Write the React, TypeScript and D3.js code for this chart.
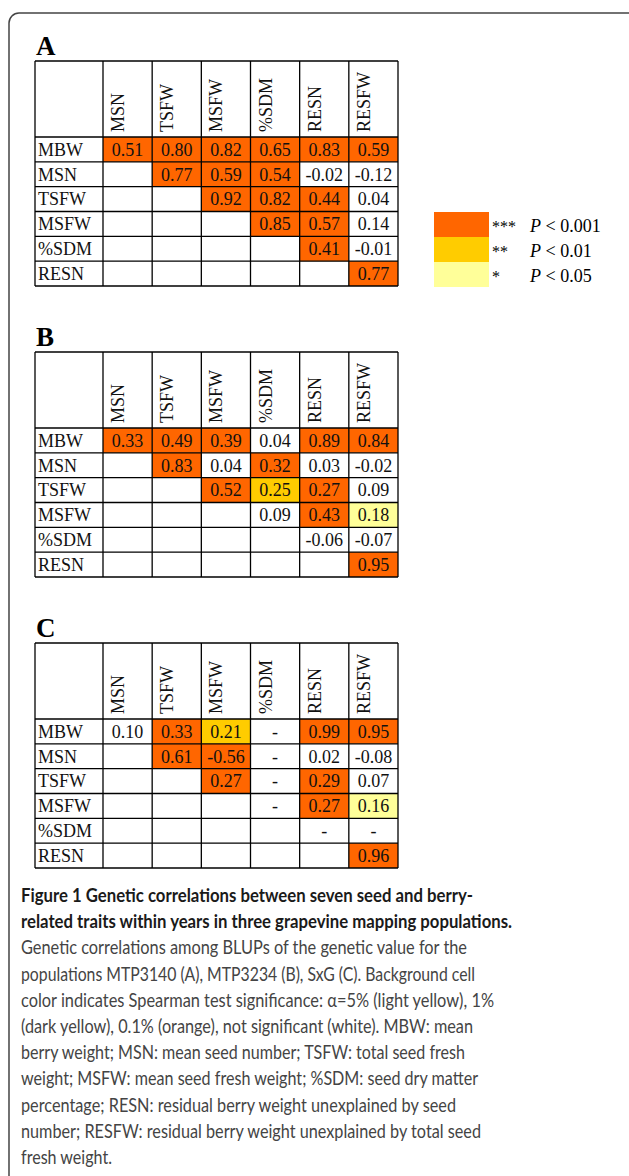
import { useEffect, useRef } from "react";
import * as d3 from "d3";

// Trait names
const rowTraits = ["MBW", "MSN", "TSFW", "MSFW", "%SDM", "RESN"];
const colTraits = ["MSN", "TSFW", "MSFW", "%SDM", "RESN", "RESFW"];

// Upper triangle values per row (null = "-"), starting at diagonal column
const valuesA: (number | null)[][] = [
  [0.51, 0.8, 0.82, 0.65, 0.83, 0.59],
  [0.77, 0.59, 0.54, -0.02, -0.12],
  [0.92, 0.82, 0.44, 0.04],
  [0.85, 0.57, 0.14],
  [0.41, -0.01],
  [0.77],
];
// significance: 3 = P<0.001, 2 = P<0.01, 1 = P<0.05, 0 = n.s.
const sigA = [
  [3, 3, 3, 3, 3, 3],
  [3, 3, 3, 0, 0],
  [3, 3, 3, 0],
  [3, 3, 0],
  [3, 0],
  [3],
];

const valuesB: (number | null)[][] = [
  [0.33, 0.49, 0.39, 0.04, 0.89, 0.84],
  [0.83, 0.04, 0.32, 0.03, -0.02],
  [0.52, 0.25, 0.27, 0.09],
  [0.09, 0.43, 0.18],
  [-0.06, -0.07],
  [0.95],
];
const sigB = [
  [3, 3, 3, 0, 3, 3],
  [3, 0, 3, 0, 0],
  [3, 2, 3, 0],
  [0, 3, 1],
  [0, 0],
  [3],
];

const valuesC: (number | null)[][] = [
  [0.1, 0.33, 0.21, null, 0.99, 0.95],
  [0.61, -0.56, null, 0.02, -0.08],
  [0.27, null, 0.29, 0.07],
  [null, 0.27, 0.16],
  [null, null],
  [0.96],
];
const sigC = [
  [0, 3, 2, 0, 3, 3],
  [3, 3, 0, 0, 0],
  [3, 0, 3, 0],
  [0, 3, 1],
  [0, 0],
  [3],
];

const panels = [
  { label: "A", values: valuesA, sig: sigA },
  { label: "B", values: valuesB, sig: sigB },
  { label: "C", values: valuesC, sig: sigC },
];

const legendStars = ["***", "**", "*"];
const legendP = ["0.001", "0.01", "0.05"];

const captionBold = [
  "Figure 1 Genetic correlations between seven seed and berry-",
  "related traits within years in three grapevine mapping populations.",
];
const captionLines = [
  "Genetic correlations among BLUPs of the genetic value for the",
  "populations MTP3140 (A), MTP3234 (B), SxG (C). Background cell",
  "color indicates Spearman test significance: α=5% (light yellow), 1%",
  "(dark yellow), 0.1% (orange), not significant (white). MBW: mean",
  "berry weight; MSN: mean seed number; TSFW: total seed fresh",
  "weight; MSFW: mean seed fresh weight; %SDM: seed dry matter",
  "percentage; RESN: residual berry weight unexplained by seed",
  "number; RESFW: residual berry weight unexplained by total seed",
  "fresh weight.",
];
const captionWidths = [452, 491, 446, 454, 473, 452, 444, 457, 435, 460, 91];

export default function App() {
  const svgRef = useRef<SVGSVGElement>(null);

  useEffect(() => {
    if (!svgRef.current) return;
    const width = 629;
    const height = 1176;
    const svg = d3.select(svgRef.current);
    svg.selectAll("*").remove();
    svg.attr("width", width).attr("height", height);

    const serif = "'Liberation Serif', 'Times New Roman', serif";
    const sigColor = ["#ffffff", "#ffff99", "#ffcc00", "#ff6600"];

    // outer frame
    svg
      .append("rect")
      .attr("x", 9)
      .attr("y", 13)
      .attr("width", 640)
      .attr("height", 1220)
      .attr("rx", 10)
      .attr("fill", "none")
      .attr("stroke", "#444")
      .attr("stroke-width", 1.5);

    const tableLeft = 35;
    const firstColRight = 103;
    const tableRight = 398;
    const headerH = 76;
    const bodyH = 149;
    const tableTops = [61, 352, 643];

    const x = d3
      .scaleBand<string>()
      .domain(colTraits)
      .range([firstColRight, tableRight]);

    panels.forEach((panel, p) => {
      const top = tableTops[p];
      const headerBottom = top + headerH;
      const y = d3
        .scaleBand<string>()
        .domain(rowTraits)
        .range([headerBottom, headerBottom + bodyH]);
      const g = svg.append("g");

      // panel letter
      g.append("text")
        .attr("x", 36)
        .attr("y", top - 6)
        .attr("font-family", serif)
        .attr("font-weight", "bold")
        .attr("font-size", 27)
        .text(panel.label);

      // coloured cells
      panel.values.forEach((row, i) => {
        row.forEach((v, k) => {
          const col = colTraits[i + k];
          const s = panel.sig[i][k];
          g.append("rect")
            .attr("x", x(col)!)
            .attr("y", y(rowTraits[i])!)
            .attr("width", x.bandwidth())
            .attr("height", y.bandwidth())
            .attr("fill", sigColor[s]);
          g.append("text")
            .attr("x", x(col)! + x.bandwidth() / 2)
            .attr("y", y(rowTraits[i])! + y.bandwidth() / 2)
            .attr("dy", "0.35em")
            .attr("text-anchor", "middle")
            .attr("font-family", serif)
            .attr("font-size", 18)
            .attr("fill", "#111")
            .text(v === null ? "-" : v.toFixed(2));
        });
      });

      // row labels
      rowTraits.forEach((r) => {
        g.append("text")
          .attr("x", 38)
          .attr("y", y(r)! + y.bandwidth() / 2)
          .attr("dy", "0.35em")
          .attr("font-family", serif)
          .attr("font-size", 18)
          .attr("fill", "#111")
          .text(r);
      });

      // column headers (rotated)
      colTraits.forEach((c) => {
        g.append("text")
          .attr(
            "transform",
            `translate(${x(c)! + 21}, ${headerBottom - 5}) rotate(-90)`
          )
          .attr("font-family", serif)
          .attr("font-size", 18)
          .attr("fill", "#111")
          .text(c);
      });

      // grid lines
      const grid = g
        .append("g")
        .attr("stroke", "#000")
        .attr("stroke-width", 1.3);
      const hLines = [top, ...rowTraits.map((r) => y(r)!), headerBottom + bodyH];
      hLines.forEach((yy) => {
        grid
          .append("line")
          .attr("x1", tableLeft)
          .attr("x2", tableRight)
          .attr("y1", yy)
          .attr("y2", yy);
      });
      const vLines = [tableLeft, ...colTraits.map((c) => x(c)!), tableRight];
      vLines.forEach((xx) => {
        grid
          .append("line")
          .attr("x1", xx)
          .attr("x2", xx)
          .attr("y1", top)
          .attr("y2", headerBottom + bodyH);
      });
    });

    // legend
    const legend = svg.append("g");
    const ly = d3.scaleBand<number>().domain([0, 1, 2]).range([212, 287]);
    legendP.forEach((pv, i) => {
      legend
        .append("rect")
        .attr("x", 434)
        .attr("y", ly(i)!)
        .attr("width", 55)
        .attr("height", ly.bandwidth())
        .attr("fill", sigColor[3 - i]);
      legend
        .append("text")
        .attr("x", 492)
        .attr("y", ly(i)! + 20)
        .attr("font-family", serif)
        .attr("font-size", 16)
        .text(legendStars[i]);
      const t = legend
        .append("text")
        .attr("x", 530)
        .attr("y", ly(i)! + 20)
        .attr("font-family", serif)
        .attr("font-size", 18);
      t.append("tspan").attr("font-style", "italic").text("P");
      t.append("tspan").text(` < ${pv}`);
    });

    // caption
    const cap = svg.append("g").attr("font-family", "Lato, 'Open Sans', sans-serif");
    const allLines = [...captionBold, ...captionLines];
    allLines.forEach((line, i) => {
      cap
        .append("text")
        .attr("x", 21)
        .attr("y", 902 + i * 26.2)
        .attr("font-size", 19)
        .attr("font-weight", i < captionBold.length ? "bold" : "normal")
        .attr("fill", i < captionBold.length ? "#1a1a1a" : "#444")
        .attr("textLength", captionWidths[i])
        .attr("lengthAdjust", "spacingAndGlyphs")
        .text(line);
    });
  }, []);

  return (
    <svg
      ref={svgRef}
      style={{ position: "absolute", left: 0, top: 0, display: "block" }}
    ></svg>
  );
}
